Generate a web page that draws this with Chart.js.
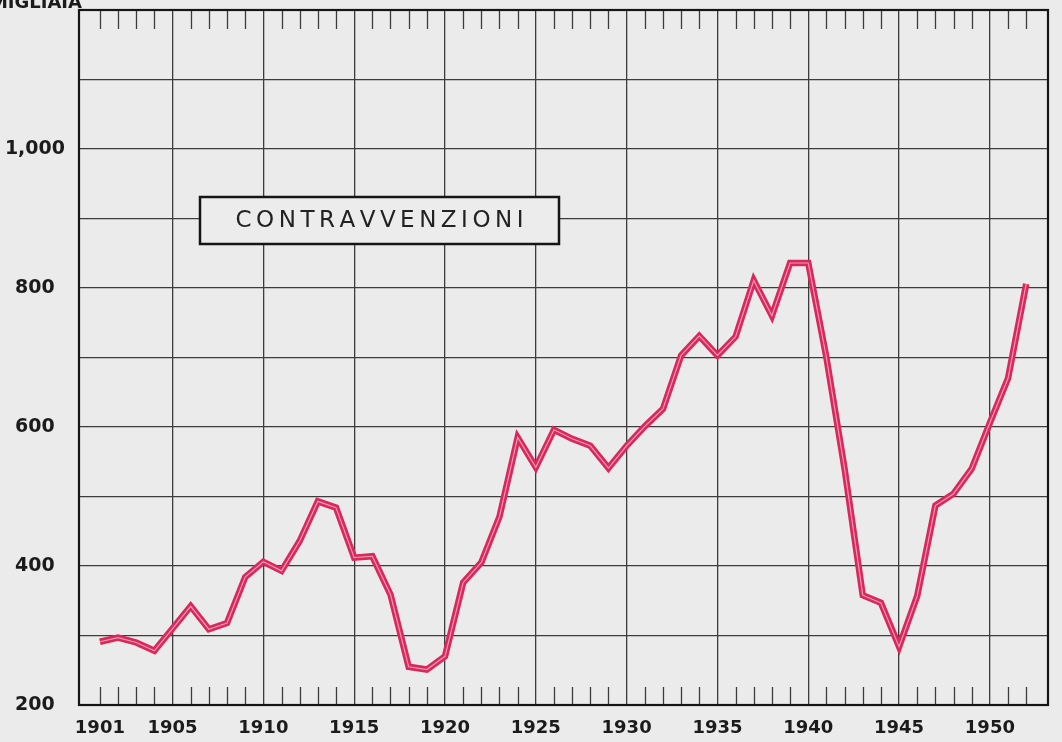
<!DOCTYPE html>
<html>
<head>
<meta charset="utf-8">
<title>Contravvenzioni</title>
<script src="https://cdn.jsdelivr.net/npm/chart.js@4.4.1/dist/chart.umd.min.js"></script>
<style>
    html, body { margin: 0; padding: 0; background: #ebebeb; }
    #chart { display: block; }
</style>
</head>
<body>
<canvas id="chart" width="1062" height="742"></canvas>
<script>
// Chart data (thousands of contraventions per year)
const years = [
    1901, 1902, 1903, 1904, 1905, 1906, 1907, 1908, 1909, 1910,
    1911, 1912, 1913, 1914, 1915, 1916, 1917, 1918, 1919, 1920,
    1921, 1922, 1923, 1924, 1925, 1926, 1927, 1928, 1929, 1930,
    1931, 1932, 1933, 1934, 1935, 1936, 1937, 1938, 1939, 1940,
    1941, 1942, 1943, 1944, 1945, 1946, 1947, 1948, 1949, 1950,
    1951, 1952
];
const contravvenzioni = [
    291, 297, 290, 278, 310, 342, 309, 318, 384, 406,
    393, 436, 493, 484, 412, 414, 359, 255, 251, 270,
    376, 405, 471, 585, 542, 596, 583, 573, 541, 573,
    601, 626, 703, 731, 703, 730, 811, 760, 836, 836,
    700, 540, 358, 347, 284, 357, 487, 504, 540, 606,
    670, 806
];
const xTickYears = [1901, 1905, 1910, 1915, 1920, 1925, 1930, 1935, 1940, 1945, 1950];
const yLabelValues = [200, 400, 600, 800, 1000];
const seriesTitle = 'CONTRAVVENZIONI';
const unitTitle = 'MIGLIAIA';

document.addEventListener('DOMContentLoaded', function() {
    const ctx = document.getElementById('chart').getContext('2d');
    const points = years.map((yr, i) => ({ x: yr, y: contravvenzioni[i] }));

    const gridColor = '#3c3c3c';
    const inkColor = '#1b1b1b';

    // Paper background, frame, small yearly ticks and the title box
    const paperPlugin = {
        id: 'paper',
        beforeDraw(chart) {
            const c = chart.ctx;
            c.save();
            c.fillStyle = '#ebebeb';
            c.fillRect(0, 0, chart.width, chart.height);
            c.restore();
        },
        beforeDatasetsDraw(chart) {
            const c = chart.ctx;
            const area = chart.chartArea;
            const xScale = chart.scales.x;
            c.save();
            c.strokeStyle = gridColor;
            c.lineWidth = 1.3;
            // yearly ticks on top and bottom edges
            for (let yr = 1901; yr <= 1952; yr++) {
                if (yr % 5 === 0) continue;
                const px = Math.round(xScale.getPixelForValue(yr)) + 0.5;
                c.beginPath();
                c.moveTo(px, area.top);
                c.lineTo(px, area.top + 19);
                c.moveTo(px, area.bottom);
                c.lineTo(px, area.bottom - 18);
                c.stroke();
            }
            // frame
            c.strokeStyle = '#151515';
            c.lineWidth = 2.2;
            c.strokeRect(area.left, area.top, area.right - area.left, area.bottom - area.top);
            c.restore();
        },
        afterDraw(chart) {
            const c = chart.ctx;
            c.save();
            // unit label, partly cut off at the top-left corner
            c.fillStyle = inkColor;
            c.font = 'bold 18px "DejaVu Sans"';
            c.textAlign = 'right';
            c.textBaseline = 'alphabetic';
            c.fillText(unitTitle, 82, 8);

            // series title box
            const bx = 200, by = 197, bw = 359, bh = 47;
            c.fillStyle = '#ececec';
            c.fillRect(bx, by, bw, bh);
            c.strokeStyle = '#151515';
            c.lineWidth = 2.5;
            c.strokeRect(bx, by, bw, bh);

            // letter-spaced title, drawn one char at a time
            c.font = '23px "DejaVu Sans"';
            c.textAlign = 'left';
            c.textBaseline = 'middle';
            c.fillStyle = '#222';
            const spacing = 4.5;
            const chars = seriesTitle.split('');
            let total = 0;
            chars.forEach(ch => { total += c.measureText(ch).width + spacing; });
            total -= spacing;
            let tx = bx + (bw - total) / 2;
            chars.forEach(ch => {
                c.fillText(ch, tx, by + bh / 2 + 1);
                tx += c.measureText(ch).width + spacing;
            });
            c.restore();
        }
    };

    new Chart(ctx, {
        type: 'line',
        data: {
            datasets: [{
                label: seriesTitle,
                data: points,
                borderColor: '#d8285c',
                borderWidth: 6.5,
                pointRadius: 0,
                tension: 0,
                order: 2
            }, {
                label: seriesTitle + ' (inner)',
                data: points,
                borderColor: '#ee9ab1',
                borderWidth: 1.2,
                pointRadius: 0,
                tension: 0,
                order: 1
            }]
        },
        options: {
            responsive: false,
            animation: false,
            layout: {
                padding: { top: 10, right: 14, left: 0, bottom: 0 }
            },
            plugins: {
                legend: { display: false },
                tooltip: { enabled: false }
            },
            scales: {
                x: {
                    type: 'linear',
                    min: 1899.85,
                    max: 1953.2,
                    afterBuildTicks: function(scale) {
                        scale.ticks = xTickYears.map(v => ({ value: v }));
                    },
                    afterFit: function(scale) {
                        scale.height = 37;
                        scale.paddingLeft = 0;
                        scale.paddingRight = 0;
                    },
                    border: { display: false },
                    grid: {
                        drawTicks: false,
                        lineWidth: 1.3,
                        color: function(c) {
                            return c.tick && c.tick.value % 5 === 0 ? gridColor : 'rgba(0,0,0,0)';
                        }
                    },
                    ticks: {
                        padding: 13,
                        maxRotation: 0,
                        autoSkip: false,
                        color: inkColor,
                        font: { family: '"DejaVu Sans"', size: 18, weight: 'bold' },
                        callback: function(v) { return String(v); }
                    }
                },
                y: {
                    min: 200,
                    max: 1200,
                    afterFit: function(scale) {
                        scale.width = 79;
                        // keep the plot frame close to the canvas top
                        scale.paddingTop = 0;
                        scale.paddingBottom = 0;
                    },
                    border: { display: false },
                    grid: {
                        drawTicks: false,
                        lineWidth: 1.3,
                        color: gridColor
                    },
                    ticks: {
                        stepSize: 100,
                        padding: 14,
                        crossAlign: 'center',
                        color: inkColor,
                        font: { family: '"DejaVu Sans"', size: 19, weight: 'bold' },
                        callback: function(v) {
                            if (!yLabelValues.includes(v)) return '';
                            return v === 1000 ? '1,000' : String(v);
                        }
                    }
                }
            }
        },
        plugins: [paperPlugin]
    });
});
</script>
</body>
</html>
